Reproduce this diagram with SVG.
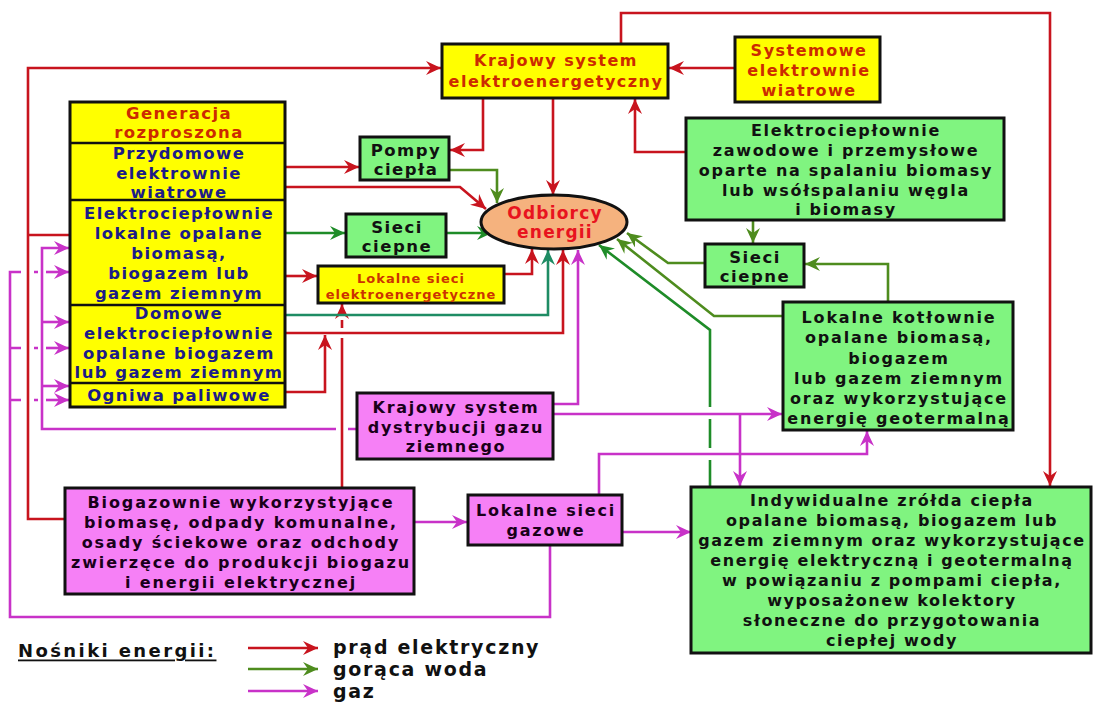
<svg xmlns="http://www.w3.org/2000/svg" width="1093" height="702" viewBox="0 0 1093 702">
<defs>
<style>
text{font-family:"DejaVu Sans","Liberation Sans",sans-serif;font-weight:bold;text-anchor:middle;dominant-baseline:central}
.box{stroke:#111;stroke-width:3}
.y{fill:#ffff00}.g{fill:#80f480}.m{fill:#f680f6}
.div{stroke:#111;stroke-width:2.5}
.tr{fill:#cc2a00;font-size:16px;letter-spacing:1.5px}
.ts{fill:#cc2a00;font-size:16.5px;letter-spacing:1.4px}
.tn{fill:#1c1c88;font-size:16.5px;letter-spacing:1.4px}
.tk{fill:#111;font-size:16px;letter-spacing:1.7px}
.tb{fill:#111;font-size:16.5px;letter-spacing:1.5px}
.tm{fill:#1a001a;font-size:16px;letter-spacing:1.7px}
.c{fill:none;stroke-width:2.6}
.r{stroke:#c8141e}.gr{stroke:#1e8c28}.ol{stroke:#4e8c1e}.te{stroke:#1e8c64}.mg{stroke:#c832c8}
</style>
<marker id="ar" markerUnits="userSpaceOnUse" markerWidth="16" markerHeight="14" refX="15" refY="7" orient="auto"><path d="M0,0 L15,7 L0,14 L5,7 Z" fill="#c8141e"/></marker>
<marker id="ag" markerUnits="userSpaceOnUse" markerWidth="16" markerHeight="14" refX="15" refY="7" orient="auto"><path d="M0,0 L15,7 L0,14 L5,7 Z" fill="#1e8c28"/></marker>
<marker id="ao" markerUnits="userSpaceOnUse" markerWidth="16" markerHeight="14" refX="15" refY="7" orient="auto"><path d="M0,0 L15,7 L0,14 L5,7 Z" fill="#4e8c1e"/></marker>
<marker id="at" markerUnits="userSpaceOnUse" markerWidth="16" markerHeight="14" refX="15" refY="7" orient="auto"><path d="M0,0 L15,7 L0,14 L5,7 Z" fill="#1e8c64"/></marker>
<marker id="am" markerUnits="userSpaceOnUse" markerWidth="16" markerHeight="14" refX="15" refY="7" orient="auto"><path d="M0,0 L15,7 L0,14 L5,7 Z" fill="#c832c8"/></marker>
</defs>
<rect width="1093" height="702" fill="#fff"/>

<g id="connectors">
<!-- red -->
<path class="c r" d="M621,44 V13 H1050 V486" marker-end="url(#ar)"/>
<path class="c r" d="M65,519 H28 V68 H441" marker-end="url(#ar)"/>
<path class="c r" d="M70,235 H28"/>
<path class="c r" d="M735,68 H669" marker-end="url(#ar)"/>
<path class="c r" d="M686,152 H635 V99" marker-end="url(#ar)"/>
<path class="c r" d="M483,98 V150 H450" marker-end="url(#ar)"/>
<path class="c r" d="M553,98 V195" marker-end="url(#ar)"/>
<path class="c r" d="M285,167 H359" marker-end="url(#ar)"/>
<path class="c r" d="M285,187 H460 L486,209" marker-end="url(#ar)"/>
<path class="c r" d="M285,276 H317" marker-end="url(#ar)"/>
<path class="c r" d="M504,274 H532 V249" marker-end="url(#ar)"/>
<path class="c r" d="M285,333 H563 V250" marker-end="url(#ar)"/>
<path class="c r" d="M285,392 H325 V335" marker-end="url(#ar)"/>
<path class="c r" d="M342,488 V338 M342,328 V320"/>
<path class="c r" d="M342,312 V304" marker-end="url(#ar)"/>
<!-- greens -->
<path class="c ol" d="M449,170 H497 V203" marker-end="url(#ao)"/>
<path class="c gr" d="M285,233 H345" marker-end="url(#ag)"/>
<path class="c gr" d="M446,233 H492" marker-end="url(#ag)"/>
<path class="c te" d="M285,315 H548 V250" marker-end="url(#at)"/>
<path class="c ol" d="M753,220 V243" marker-end="url(#ao)"/>
<path class="c ol" d="M888,302 V264 H805" marker-end="url(#ao)"/>
<path class="c ol" d="M705,263 H668 L627,233" marker-end="url(#ao)"/>
<path class="c ol" d="M783,316 H714 L617,239" marker-end="url(#ao)"/>
<path class="c gr" d="M710,487 V460 M710,448 V419"/>
<path class="c gr" d="M710,407 V330 L599,245" marker-end="url(#ag)"/>
<!-- magenta -->
<path class="c mg" d="M553,404 H578 V250" marker-end="url(#am)"/>
<path class="c mg" d="M553,414 H782" marker-end="url(#am)"/>
<path class="c mg" d="M740,414 V486" marker-end="url(#am)"/>
<path class="c mg" d="M414,522 H467" marker-end="url(#am)"/>
<path class="c mg" d="M622,532 H691" marker-end="url(#am)"/>
<path class="c mg" d="M599,495 V454 H867 V431" marker-end="url(#am)"/>
<path class="c mg" d="M550,545 V617 H10 V272 H21 M34,272 H38 M10,348 H21 M34,348 H38 M10,400 H21 M34,400 H38"/>
<path class="c mg" d="M46,272 H69" marker-end="url(#am)"/>
<path class="c mg" d="M46,348 H69" marker-end="url(#am)"/>
<path class="c mg" d="M46,400 H69" marker-end="url(#am)"/>
<path class="c mg" d="M357,429 H348 M336,429 H42 V248 H69" marker-end="url(#am)"/>
<path class="c mg" d="M42,322 H69" marker-end="url(#am)"/>
<path class="c mg" d="M42,386 H69" marker-end="url(#am)"/>
</g>

<g id="krajowy-system-elektro">
<rect class="box y" x="442" y="44" width="226" height="54"/>
<text class="tr" x="556" y="60">Krajowy system</text>
<text class="tr" x="556" y="81">elektroenergetyczny</text>
</g>
<g id="systemowe-elektrownie">
<rect class="box y" x="735" y="37" width="145" height="65"/>
<text class="tr" x="809" y="50">Systemowe</text>
<text class="tr" x="809" y="70">elektrownie</text>
<text class="tr" x="809" y="90">wiatrowe</text>
</g>
<g id="generacja-rozproszona">
<rect class="box y" x="70" y="102" width="215" height="305"/>
<line class="div" x1="70" y1="143" x2="285" y2="143"/>
<line class="div" x1="70" y1="200" x2="285" y2="200"/>
<line class="div" x1="70" y1="305" x2="285" y2="305"/>
<line class="div" x1="70" y1="383" x2="285" y2="383"/>
<text class="ts" x="179" y="113">Generacja</text>
<text class="ts" x="179" y="132">rozproszona</text>
<text class="tn" x="179" y="153">Przydomowe</text>
<text class="tn" x="179" y="173">elektrownie</text>
<text class="tn" x="179" y="192">wiatrowe</text>
<text class="tn" x="179" y="213">Elektrociepłownie</text>
<text class="tn" x="179" y="233">lokalne opalane</text>
<text class="tn" x="179" y="253">biomasą,</text>
<text class="tn" x="179" y="273">biogazem lub</text>
<text class="tn" x="179" y="293">gazem ziemnym</text>
<text class="tn" x="179" y="313">Domowe</text>
<text class="tn" x="179" y="333">elektrociepłownie</text>
<text class="tn" x="179" y="353">opalane biogazem</text>
<text class="tn" x="179" y="372">lub gazem ziemnym</text>
<text class="tn" x="179" y="395">Ogniwa paliwowe</text>
</g>
<g id="pompy-ciepla">
<rect class="box g" x="360" y="137" width="89" height="43"/>
<text class="tb" x="406" y="150">Pompy</text>
<text class="tb" x="406" y="169">ciepła</text>
</g>
<g id="sieci-ciepne-1">
<rect class="box g" x="346" y="214" width="100" height="43"/>
<text class="tb" x="397" y="227">Sieci</text>
<text class="tb" x="397" y="246">ciepne</text>
</g>
<g id="lokalne-sieci-elektro">
<rect class="box y" x="318" y="266" width="186" height="37"/>
<text x="411" y="278" style="font-size:13px;letter-spacing:1px;fill:#cc3300">Lokalne sieci</text>
<text x="411" y="294" style="font-size:13px;letter-spacing:1px;fill:#cc3300">elektroenergetyczne</text>
</g>
<g id="odbiorcy-energii">
<ellipse cx="554" cy="222" rx="73" ry="27" fill="#f5b27e" stroke="#111" stroke-width="3"/>
<text x="555" y="213" style="font-size:17px;letter-spacing:1.2px;fill:#e8141e">Odbiorcy</text>
<text x="555" y="232" style="font-size:17px;letter-spacing:1.2px;fill:#e8141e">energii</text>
</g>
<g id="elektrocieplownie-zawodowe">
<rect class="box g" x="686" y="118" width="318" height="102"/>
<text class="tk" x="846" y="130">Elektrociepłownie</text>
<text class="tk" x="846" y="150">zawodowe i przemysłowe</text>
<text class="tk" x="846" y="170">oparte na spalaniu biomasy</text>
<text class="tk" x="846" y="190">lub wsółspalaniu węgla</text>
<text class="tk" x="846" y="209">i biomasy</text>
</g>
<g id="sieci-ciepne-2">
<rect class="box g" x="705" y="244" width="99" height="43"/>
<text class="tb" x="755" y="257">Sieci</text>
<text class="tb" x="755" y="276">ciepne</text>
</g>
<g id="lokalne-kotlownie">
<rect class="box g" x="783" y="302" width="230" height="128"/>
<text class="tk" x="899" y="317" style="letter-spacing:1.8px">Lokalne kotłownie</text>
<text class="tk" x="899" y="337" style="letter-spacing:1.8px">opalane biomasą,</text>
<text class="tk" x="899" y="358" style="letter-spacing:1.8px">biogazem</text>
<text class="tk" x="899" y="378" style="letter-spacing:1.8px">lub gazem ziemnym</text>
<text class="tk" x="899" y="398" style="letter-spacing:1.8px">oraz wykorzystujące</text>
<text class="tk" x="899" y="418" style="letter-spacing:1.8px">energię geotermalną</text>
</g>
<g id="krajowy-system-gazu">
<rect class="box m" x="357" y="393" width="196" height="66"/>
<text class="tm" x="456" y="407">Krajowy system</text>
<text class="tm" x="456" y="427">dystrybucji gazu</text>
<text class="tm" x="456" y="446">ziemnego</text>
</g>
<g id="biogazownie">
<rect class="box m" x="65" y="488" width="349" height="106"/>
<text class="tm" x="241" y="502" style="letter-spacing:1.9px">Biogazownie wykorzystyjące</text>
<text class="tm" x="241" y="522" style="letter-spacing:1.9px">biomasę, odpady komunalne,</text>
<text class="tm" x="241" y="542" style="letter-spacing:1.9px">osady ściekowe oraz odchody</text>
<text class="tm" x="241" y="562" style="letter-spacing:1.9px">zwierzęce do produkcji biogazu</text>
<text class="tm" x="241" y="582" style="letter-spacing:1.9px">i energii elektrycznej</text>
</g>
<g id="lokalne-sieci-gazowe">
<rect class="box m" x="468" y="495" width="154" height="50"/>
<text class="tm" x="546" y="510" style="letter-spacing:1.8px">Lokalne sieci</text>
<text class="tm" x="546" y="530" style="letter-spacing:1.8px">gazowe</text>
</g>
<g id="indywidualne-zrodla">
<rect class="box g" x="691" y="487" width="400" height="166"/>
<text class="tk" x="892" y="500" style="letter-spacing:1.6px">Indywidualne zrółda ciepła</text>
<text class="tk" x="892" y="520" style="letter-spacing:1.6px">opalane biomasą, biogazem lub</text>
<text class="tk" x="892" y="540" style="letter-spacing:1.6px">gazem ziemnym oraz wykorzystujące</text>
<text class="tk" x="892" y="560" style="letter-spacing:1.6px">energię elektryczną i geotermalną</text>
<text class="tk" x="892" y="580" style="letter-spacing:1.6px">w powiązaniu z pompami ciepła,</text>
<text class="tk" x="892" y="600" style="letter-spacing:1.6px">wyposażonew kolektory</text>
<text class="tk" x="892" y="620" style="letter-spacing:1.6px">słoneczne do przygotowania</text>
<text class="tk" x="892" y="640" style="letter-spacing:1.6px">ciepłej wody</text>
</g>
<g id="legend">
<text x="18" y="650" style="font-size:18px;letter-spacing:2.4px;fill:#111;text-anchor:start;text-decoration:underline">Nośniki energii:</text>
<path class="c r" d="M248,648 H318" marker-end="url(#ar)"/>
<path class="c ol" d="M248,669 H318" marker-end="url(#ao)"/>
<path class="c mg" d="M248,691 H318" marker-end="url(#am)"/>
<text x="333" y="647" style="font-size:19px;letter-spacing:1.7px;fill:#111;text-anchor:start">prąd elektryczny</text>
<text x="333" y="669" style="font-size:19px;letter-spacing:1.7px;fill:#111;text-anchor:start">gorąca woda</text>
<text x="333" y="691" style="font-size:19px;letter-spacing:1.7px;fill:#111;text-anchor:start">gaz</text>
</g>
</svg>
